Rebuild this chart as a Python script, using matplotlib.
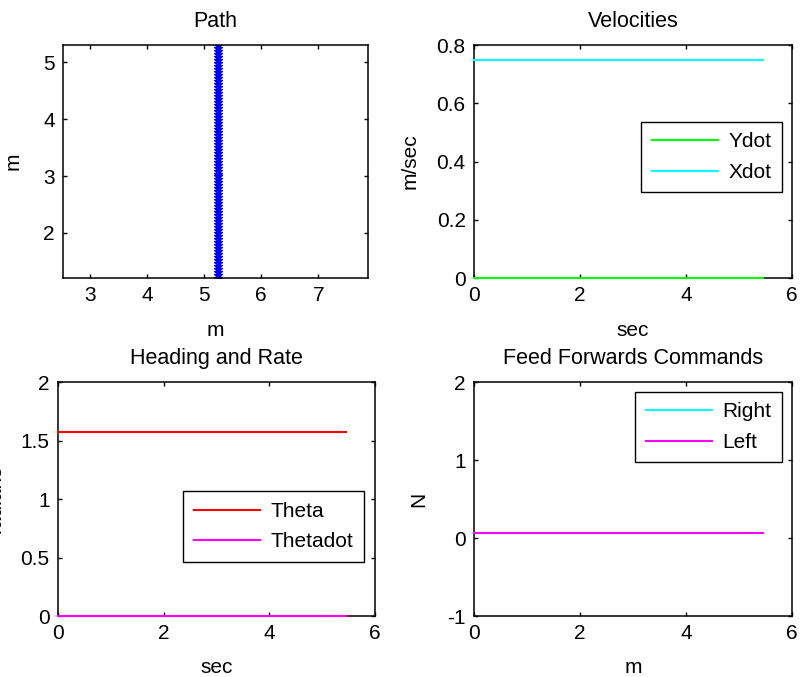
import numpy as np
import matplotlib
matplotlib.use("Agg")
import matplotlib.pyplot as plt

plt.rcParams["font.family"] = ["Liberation Sans", "DejaVu Sans"]
plt.rcParams["font.size"] = 15
plt.rcParams["axes.unicode_minus"] = False

# Simulation samples
t_end = 5.45
n_samples = 79
t = np.linspace(0.0, t_end, n_samples)

# Constant state values over the run
x_pos = 5.236          # m
y_start = 1.21         # m
xdot_val = 0.75        # m/sec
ydot_val = 0.0         # m/sec
theta_val = np.pi / 2  # radians
thetadot_val = 0.0     # radians/sec
ff_right_val = 0.07    # N
ff_left_val = 0.07     # N

xdot = np.full(n_samples, xdot_val)
ydot = np.full(n_samples, ydot_val)
theta = np.full(n_samples, theta_val)
thetadot = np.full(n_samples, thetadot_val)
ff_right = np.full(n_samples, ff_right_val)
ff_left = np.full(n_samples, ff_left_val)

# Path traced while heading straight along +y
path_x = np.full(n_samples, x_pos)
path_y = y_start + xdot_val * t

fig = plt.figure(figsize=(8.0, 6.77), dpi=100)
W, H = 800.0, 677.0


def add_axes(l, r, top, bot):
    return fig.add_axes([l / W, 1 - bot / H, (r - l) / W, (bot - top) / H])


def style(ax):
    for s in ax.spines.values():
        s.set_linewidth(1.1)
        s.set_color("black")
    ax.tick_params(direction="in", length=3, width=1, top=True, right=True,
                   labelsize=15, pad=6, colors="black")


leg_kw = dict(frameon=True, fancybox=False, framealpha=1, edgecolor="black",
              handlelength=3.2, handletextpad=0.5, borderpad=0.5,
              labelspacing=0.55, borderaxespad=0, fontsize=15)
line_kw = dict(lw=1.5, zorder=3, clip_on=False)
title_kw = dict(fontsize=15.5, pad=13)

# Path
ax1 = add_axes(63, 368, 45, 278)
ax1.plot(path_x, path_y, color="blue", marker="*", markersize=6, lw=1.5)
ax1.set_xlim(2.53, 7.87)
ax1.set_ylim(1.21, 5.30)
ax1.set_xticks([3, 4, 5, 6, 7])
ax1.set_yticks([2, 3, 4, 5])
ax1.set_title("Path", **title_kw)
ax1.set_xlabel("m")
ax1.set_ylabel("m")
style(ax1)

# Velocities
ax2 = add_axes(474, 792, 45, 278)
ax2.plot(t, ydot, color="#00ff00", label="Ydot", **line_kw)
ax2.plot(t, xdot, color="cyan", label="Xdot", **line_kw)
ax2.set_xlim(0, 6)
ax2.set_ylim(0, 0.8)
ax2.set_xticks([0, 2, 4, 6])
ax2.set_yticks([0, 0.2, 0.4, 0.6, 0.8])
ax2.set_yticklabels(["0", "0.2", "0.4", "0.6", "0.8"])
ax2.set_title("Velocities", **title_kw)
ax2.set_xlabel("sec")
ax2.set_ylabel("m/sec")
ax2.legend(loc="center right", bbox_to_anchor=(0.969, 0.519), **leg_kw)
style(ax2)

# Heading and Rate
ax3 = add_axes(58, 375, 382, 616)
ax3.plot(t, theta, color="red", label="Theta", **line_kw)
ax3.plot(t, thetadot, color="magenta", label="Thetadot", **line_kw)
ax3.set_xlim(0, 6)
ax3.set_ylim(0, 2)
ax3.set_xticks([0, 2, 4, 6])
ax3.set_yticks([0, 0.5, 1, 1.5, 2])
ax3.set_yticklabels(["0", "0.5", "1", "1.5", "2"])
ax3.set_title("Heading and Rate", **title_kw)
ax3.set_xlabel("sec")
ax3.set_ylabel("radians")
ax3.legend(loc="center right", bbox_to_anchor=(0.965, 0.382), **leg_kw)
style(ax3)

# Feed Forwards Commands
ax4 = add_axes(474, 792, 382, 616)
ax4.plot(t, ff_right, color="cyan", label="Right", **line_kw)
ax4.plot(t, ff_left, color="magenta", label="Left", **line_kw)
ax4.set_xlim(0, 6)
ax4.set_ylim(-1, 2)
ax4.set_xticks([0, 2, 4, 6])
ax4.set_yticks([-1, 0, 1, 2])
ax4.set_title("Feed Forwards Commands", **title_kw)
ax4.set_xlabel("m")
ax4.set_ylabel("N")
ax4.legend(loc="upper right", bbox_to_anchor=(0.969, 0.957), **leg_kw)
style(ax4)

# Axis-label placement
ax1.yaxis.set_label_coords(-0.131, 0.5)
ax2.yaxis.set_label_coords(-0.170, 0.5)
ax3.yaxis.set_label_coords(-0.167, 0.5)
ax4.yaxis.set_label_coords(-0.145, 0.5)
for ax in (ax1, ax2):
    ax.xaxis.set_label_coords(0.5, -0.185)
for ax in (ax3, ax4):
    ax.xaxis.set_label_coords(0.5, -0.178)

fig.savefig("out.png", dpi=100, facecolor="white")
